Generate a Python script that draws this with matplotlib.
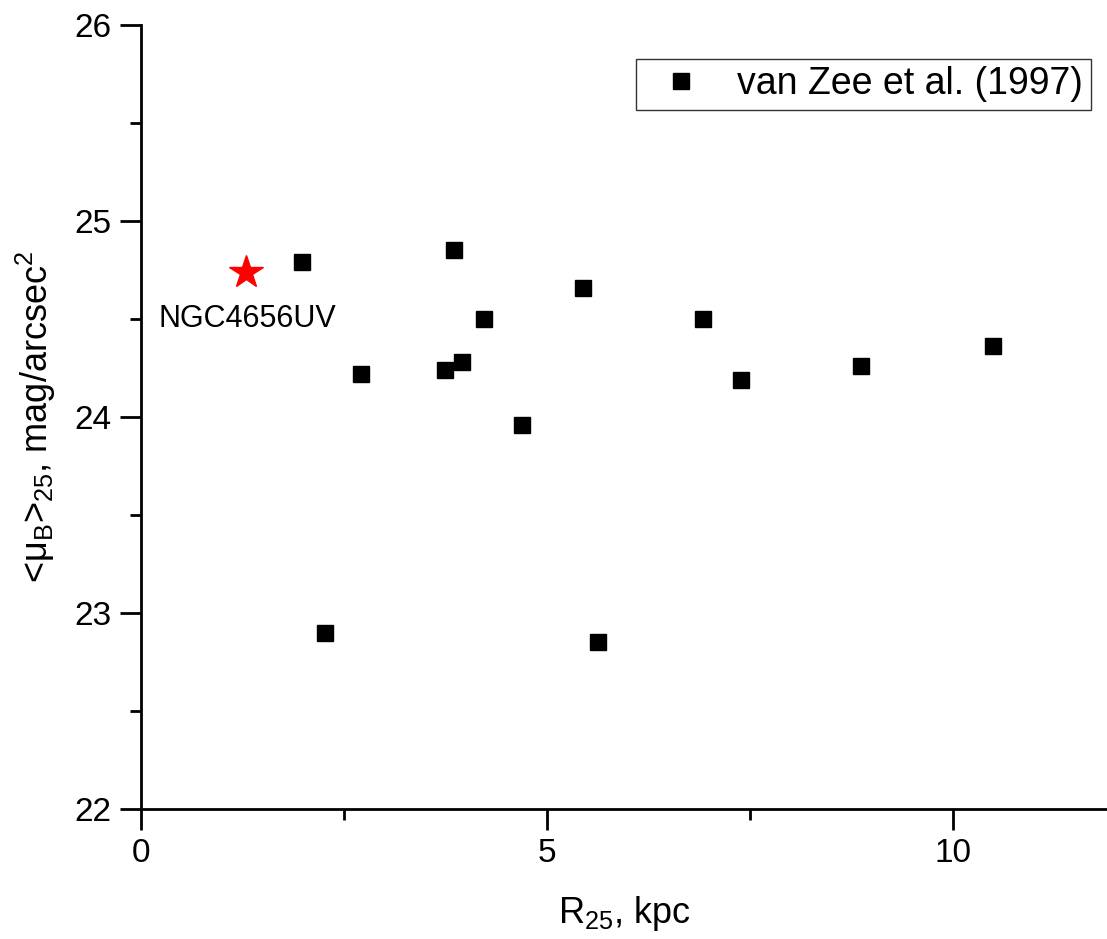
import matplotlib
matplotlib.use('Agg')
import matplotlib.pyplot as plt
from matplotlib.ticker import MultipleLocator

plt.rcParams['font.family'] = ['Liberation Sans', 'DejaVu Sans']
plt.rcParams['mathtext.fontset'] = 'custom'
plt.rcParams['mathtext.rm'] = 'Liberation Sans'
plt.rcParams['mathtext.it'] = 'Liberation Sans'
plt.rcParams['mathtext.default'] = 'regular'

# van Zee et al. (1997) sample
r25 = [1.98, 2.71, 2.27, 3.74, 3.85, 3.95, 4.22, 4.69, 5.44, 5.63, 6.92, 7.39, 8.87, 10.49]
mu_b = [24.79, 24.22, 22.90, 24.24, 24.85, 24.28, 24.50, 23.96, 24.66, 22.85, 24.50, 24.19, 24.26, 24.36]

# NGC4656UV
star_r = [1.29]
star_mu = [24.74]
star_name = 'NGC4656UV'

fig = plt.figure(figsize=(11.07, 9.39), dpi=100)
ax = fig.add_axes([0.1274, 0.1384, 0.8726, 0.835])

ax.plot(r25, mu_b, 's', color='black', markersize=12, label='van Zee et al. (1997)')
ax.plot(star_r, star_mu, '*', color='red', markersize=25)
ax.annotate(star_name, (star_r[0], star_mu[0]), xytext=(0.21, 24.50),
            fontsize=22, va='center', ha='left')

ax.set_xlim(0, 11.9)
ax.set_ylim(22, 26)
ax.xaxis.set_major_locator(MultipleLocator(5))
ax.xaxis.set_minor_locator(MultipleLocator(2.5))
ax.yaxis.set_major_locator(MultipleLocator(1))
ax.yaxis.set_minor_locator(MultipleLocator(0.5))

for s in ['top', 'right']:
    ax.spines[s].set_visible(False)
for s in ['left', 'bottom']:
    ax.spines[s].set_linewidth(2)

ax.tick_params(which='major', direction='out', length=15, width=2, labelsize=24, pad=6)
ax.tick_params(which='minor', direction='out', length=8, width=2)

ax.set_xlabel('R$_{25}$, kpc', fontsize=26, labelpad=18)
ax.set_ylabel('<μ$_B$>$_{25}$, mag/arcsec$^2$', fontsize=26, labelpad=12)

leg = ax.legend(loc='upper right', bbox_to_anchor=(0.983, 0.957), borderaxespad=0,
                fontsize=27, frameon=True, fancybox=False, edgecolor='black',
                handlelength=2.0, handletextpad=0.5, borderpad=0.2)
leg.get_frame().set_linewidth(1)

fig.savefig('out.png', dpi=100)
